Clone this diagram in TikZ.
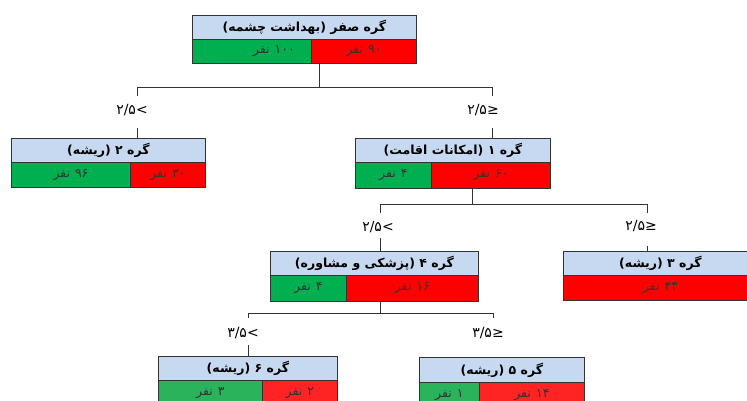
\documentclass[tikz,border=0pt]{standalone}
\usepackage{fontspec}
\TeXXeTstate=1
\newfontfamily\fa[Script=Arabic]{DejaVu Sans}
\newfontfamily\symf{DejaVu Sans}
\definecolor{hdrblue}{HTML}{C6D9F1}
\definecolor{gA}{HTML}{00B050}
\definecolor{rA}{HTML}{FF0000}
\definecolor{gB}{HTML}{2BB35C}
\definecolor{rB}{HTML}{FF2424}
\definecolor{edge}{HTML}{333333}
\newcommand{\nf}[1]{\beginR #1\hspace{5pt}نفر\endR}
\tikzset{
  box/.style={draw=edge, line width=0.8pt, inner sep=0pt, anchor=north west},
  hdr/.style={box, fill=hdrblue, font=\fa\bfseries\fontsize{12.5}{14}\selectfont},
  cellg/.style={box, fill=gA, text=black!80, font=\fa\fontsize{12.5}{14}\selectfont},
  cellr/.style={box, fill=rA, text=black!80, font=\fa\fontsize{12.5}{14}\selectfont},
  cellgb/.style={cellg, fill=gB},
  cellrb/.style={cellr, fill=rB},
  lbl/.style={inner sep=0pt, font=\fa\fontsize{14}{16}\selectfont},
  conn/.style={draw=edge, line width=0.8pt}
}
\begin{document}
\begin{tikzpicture}[x=1pt,y=-1pt]
\useasboundingbox (0,0) rectangle (747,401);

% root
\node[hdr, minimum width=224, minimum height=24] (n0) at (192,15) {\beginR گره صفر (بهداشت چشمه)\endR};
\node[cellg, minimum width=119, minimum height=24] (n0g) at (192,39) {\hspace*{44pt}\nf{۱۰۰}};
\node[cellr, minimum width=105, minimum height=24] (n0r) at (311,39) {\nf{۹۰}};

% node 2
\node[hdr, minimum width=194, minimum height=24] (n2) at (11,138) {\beginR گره ۲ (ریشه)\endR};
\node[cellg, minimum width=119, minimum height=25] (n2g) at (11,162) {\nf{۹۶}};
\node[cellr, minimum width=75, minimum height=25] (n2r) at (130,162) {\nf{۳۰}};

% node 1
\node[hdr, minimum width=195, minimum height=24] (n1) at (355,138) {\beginR گره ۱ (امکانات اقامت)\endR};
\node[cellg, minimum width=76, minimum height=26] (n1g) at (355,162) {\nf{۴}};
\node[cellr, minimum width=119, minimum height=26] (n1r) at (431,162) {\nf{۶۰}};

% node 4
\node[hdr, minimum width=208, minimum height=24] (n4) at (270,251) {\beginR گره ۴ (پزشکی و مشاوره)\endR};
\node[cellg, minimum width=76, minimum height=26] (n4g) at (270,275) {\nf{۴}};
\node[cellr, minimum width=132, minimum height=26] (n4r) at (346,275) {\nf{۱۶}};

% node 3
\node[hdr, minimum width=194, minimum height=24] (n3) at (563,251) {\beginR گره ۳ (ریشه)\endR};
\node[cellr, minimum width=194, minimum height=25] (n3r) at (563,275) {\nf{۴۴}};

% node 6
\node[hdr, minimum width=179, minimum height=24] (n6) at (158,356) {\beginR گره ۶ (ریشه)\endR};
\node[cellgb, minimum width=104, minimum height=26] (n6g) at (158,380) {\nf{۳}};
\node[cellrb, minimum width=75, minimum height=26] (n6r) at (262,380) {\nf{۲}};

% node 5
\node[hdr, minimum width=165, minimum height=25] (n5) at (419,357) {\beginR گره ۵ (ریشه)\endR};
\node[cellgb, minimum width=60, minimum height=26] (n5g) at (419,382) {\nf{۱}};
\node[cellrb, minimum width=105, minimum height=26] (n5r) at (479,382) {\nf{۱۴}};

% branch labels
\node[lbl] (l2) at (132,110) {\mbox{۲/۵}\mbox{\symf <}};
\node[lbl] (l1) at (483,110) {\mbox{۲/۵}\mbox{\symf ≥}};
\node[lbl] (l4) at (378,227) {\mbox{۲/۵}\mbox{\symf <}};
\node[lbl] (l3) at (641,226) {\mbox{۲/۵}\mbox{\symf ≥}};
\node[lbl] (l6) at (243,333) {\mbox{۳/۵}\mbox{\symf <}};
\node[lbl] (l5) at (488,333) {\mbox{۳/۵}\mbox{\symf ≥}};

% junctions
\coordinate (j0) at (319,87);
\coordinate (j0a) at (137,87);
\coordinate (j0b) at (492,87);
\coordinate (j1) at (472,204);
\coordinate (j1a) at (380,204);
\coordinate (j1b) at (647,204);
\coordinate (j4) at (380,313);
\coordinate (j4a) at (248,313);
\coordinate (j4b) at (493,313);

% level 1
\draw[conn] (j0 |- n0r.south) -- (j0);
\draw[conn] (j0a) -- (j0b);
\draw[conn] (j0a) -- ++(0,9);
\draw[conn] (j0b) -- ++(0,9);
\draw[conn] (j0a |- n2.north) -- ++(0,-10);
\draw[conn] (j0b |- n1.north) -- ++(0,-10);
% level 2
\draw[conn] (j1 |- n1r.south) -- (j1);
\draw[conn] (j1a) -- (j1b);
\draw[conn] (j1a) -- ++(0,9);
\draw[conn] (j1b) -- ++(0,9);
\draw[conn] (j1a |- n4.north) -- ++(0,-13);
\draw[conn] (j1b |- n3.north) -- ++(0,-5);
% level 3
\draw[conn] (j4 |- n4r.south) -- (j4);
\draw[conn] (j4a) -- (j4b);
\draw[conn] (j4a) -- ++(0,5);
\draw[conn] (j4b) -- ++(0,5);
\draw[conn] (j4a |- n6.north) -- ++(0,-11);
\end{tikzpicture}
\end{document}
